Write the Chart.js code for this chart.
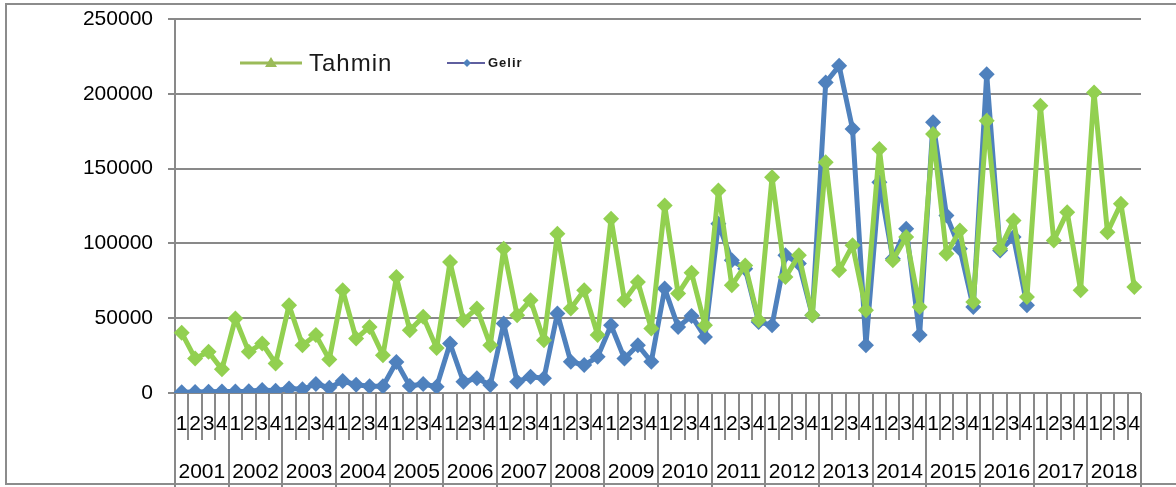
<!DOCTYPE html>
<html>
<head>
<meta charset="utf-8">
<title>Gelir ve Tahmin</title>
<script src="https://cdn.jsdelivr.net/npm/chart.js@4.4.1/dist/chart.umd.min.js"></script>
<style>
  body { margin: 0; background: #fff; }
  #wrap { width: 1176px; height: 487px; }
</style>
</head>
<body>
<div id="wrap"><canvas id="gelirChart" width="1176" height="487"></canvas></div>
<script>
// Categories: quarters grouped by year
const years = ['2001', '2002', '2003', '2004', '2005', '2006', '2007', '2008', '2009',
  '2010', '2011', '2012', '2013', '2014', '2015', '2016', '2017', '2018'];
const quarters = ['1', '2', '3', '4'];
const quarterLabels = years.flatMap(() => quarters);

// Tahmin (forecast), 2001Q1 - 2018Q4
const tahmin = [
  40200, 23100, 27500, 15800,
  49800, 27500, 33100, 19800,
  58700, 32000, 38700, 22400,
  68700, 36400, 44200, 25300,
  77500, 42000, 50900, 30000,
  87500, 48700, 56500, 32000,
  96500, 52000, 62000, 35300,
  106500, 56500, 68700, 38700,
  116500, 62000, 74200, 43100,
  125300, 66500, 80300, 45300,
  135300, 72000, 85300, 48700,
  144200, 77500, 92000, 52000,
  154200, 82000, 98700, 55300,
  163100, 88700, 104200, 57500,
  173100, 93100, 108700, 60900,
  182000, 96500, 115300, 64200,
  192000, 102000, 120900, 68700,
  200900, 107500, 126500, 70900
];

// Gelir (revenue), 2001Q1 - 2016Q4
const gelir = [
  500, 600, 800, 1000,
  1000, 1200, 2000, 1500,
  3000, 2500, 6000, 3500,
  8000, 5500, 4500, 4500,
  20700, 4700, 6000, 4200,
  33100, 7500, 9800, 5300,
  46500, 7500, 10900, 9800,
  53100, 20900, 18700, 24200,
  45300, 23100, 32000, 20900,
  69800, 44200, 51500, 37500,
  113100, 88700, 83100, 47500,
  45300, 92000, 86500, 52000,
  207500, 218700, 176500, 32000,
  140900, 89800, 109800, 38700,
  180900, 118700, 96500, 57500,
  213100, 95300, 104200, 58700
];

const yMax = 250000;
const yStep = 50000;

const FONT = "'Liberation Sans', Arial, sans-serif";
const GRID = '#898989';

// Outer frame, category separators, year labels and the legend
const excelFrame = {
  id: 'excelFrame',
  beforeDraw(chart) {
    const ctx = chart.ctx;
    ctx.save();
    ctx.strokeStyle = '#8c8c8c';
    ctx.lineWidth = 2;
    ctx.strokeRect(6, 4, 1220, 480);
    ctx.restore();
  },
  afterDraw(chart) {
    const { ctx, chartArea } = chart;
    const x = chart.scales.x;
    const step = x.getPixelForValue(1) - x.getPixelForValue(0);
    const top = chartArea.bottom;

    ctx.save();
    ctx.strokeStyle = GRID;
    ctx.lineWidth = 2;
    for (let k = 0; k <= quarterLabels.length; k++) {
      const px = Math.round(x.getPixelForValue(k) - step / 2);
      const bottom = k % 4 === 0 ? 487 : 440;
      ctx.beginPath();
      ctx.moveTo(px, top);
      ctx.lineTo(px, bottom);
      ctx.stroke();
    }

    // year labels
    ctx.fillStyle = '#000';
    ctx.font = '21px ' + FONT;
    ctx.textAlign = 'center';
    ctx.textBaseline = 'middle';
    years.forEach((yr, i) => {
      const cx = (x.getPixelForValue(i * 4) + x.getPixelForValue(i * 4 + 3)) / 2;
      ctx.fillText(yr, cx, 472);
    });

    // legend: Tahmin
    ctx.strokeStyle = '#9BBB59';
    ctx.lineWidth = 3;
    ctx.beginPath();
    ctx.moveTo(240, 63);
    ctx.lineTo(302, 63);
    ctx.stroke();
    ctx.fillStyle = '#9BBB59';
    ctx.beginPath();
    ctx.moveTo(271, 57);
    ctx.lineTo(277, 67);
    ctx.lineTo(265, 67);
    ctx.closePath();
    ctx.fill();
    ctx.fillStyle = '#1a1a1a';
    ctx.font = '24px ' + FONT;
    ctx.textAlign = 'left';
    ctx.letterSpacing = '1px';
    ctx.fillText('Tahmin', 309, 64);

    // legend: Gelir
    ctx.strokeStyle = '#5F5F9F';
    ctx.lineWidth = 2;
    ctx.beginPath();
    ctx.moveTo(447, 63);
    ctx.lineTo(485, 63);
    ctx.stroke();
    ctx.fillStyle = '#4F81BD';
    ctx.beginPath();
    ctx.moveTo(467, 59);
    ctx.lineTo(471, 63);
    ctx.lineTo(467, 67);
    ctx.lineTo(463, 63);
    ctx.closePath();
    ctx.fill();
    ctx.fillStyle = '#1a1a1a';
    ctx.font = 'bold 13px ' + FONT;
    ctx.letterSpacing = '1px';
    ctx.fillText('Gelir', 488, 63);
    ctx.restore();
  }
};

new Chart(document.getElementById('gelirChart'), {
  type: 'line',
  data: {
    labels: quarterLabels,
    datasets: [{
      label: 'Tahmin',
      data: tahmin,
      order: 0,
      borderColor: '#92D050',
      backgroundColor: '#92D050',
      borderWidth: 5,
      borderJoinStyle: 'round',
      borderCapStyle: 'round',
      pointStyle: 'rectRot',
      pointRadius: 8,
      pointBackgroundColor: '#92D050',
      pointBorderWidth: 0,
      tension: 0
    }, {
      label: 'Gelir',
      data: gelir,
      order: 1,
      borderColor: '#4F81BD',
      backgroundColor: '#4F81BD',
      borderWidth: 5,
      borderJoinStyle: 'round',
      borderCapStyle: 'round',
      pointStyle: 'rectRot',
      pointRadius: 8,
      pointBackgroundColor: '#4F81BD',
      pointBorderWidth: 0,
      tension: 0
    }]
  },
  options: {
    responsive: false,
    animation: false,
    layout: { padding: { left: 0, right: 35, top: 19, bottom: 0 } },
    plugins: { legend: { display: false }, tooltip: { enabled: false } },
    scales: {
      x: {
        offset: true,
        grid: { display: false, drawTicks: false },
        border: { display: false },
        ticks: { color: '#000', font: { family: FONT, size: 21 }, padding: 19, autoSkip: false, maxRotation: 0 },
        afterFit: (scale) => {
          scale.height = 94;
          scale.paddingLeft = 0;
          scale.paddingRight = 0;
        }
      },
      y: {
        min: 0,
        max: yMax,
        grid: { color: GRID, lineWidth: 2, tickLength: 7 },
        border: { color: GRID, width: 2 },
        ticks: {
          stepSize: yStep,
          color: '#000',
          font: { family: FONT, size: 21 },
          padding: 15,
          callback: (v) => String(v)
        },
        afterFit: (scale) => {
          scale.width = 175;
          scale.paddingTop = 0;
          scale.paddingBottom = 0;
        }
      }
    }
  },
  plugins: [excelFrame]
});
</script>
</body>
</html>
